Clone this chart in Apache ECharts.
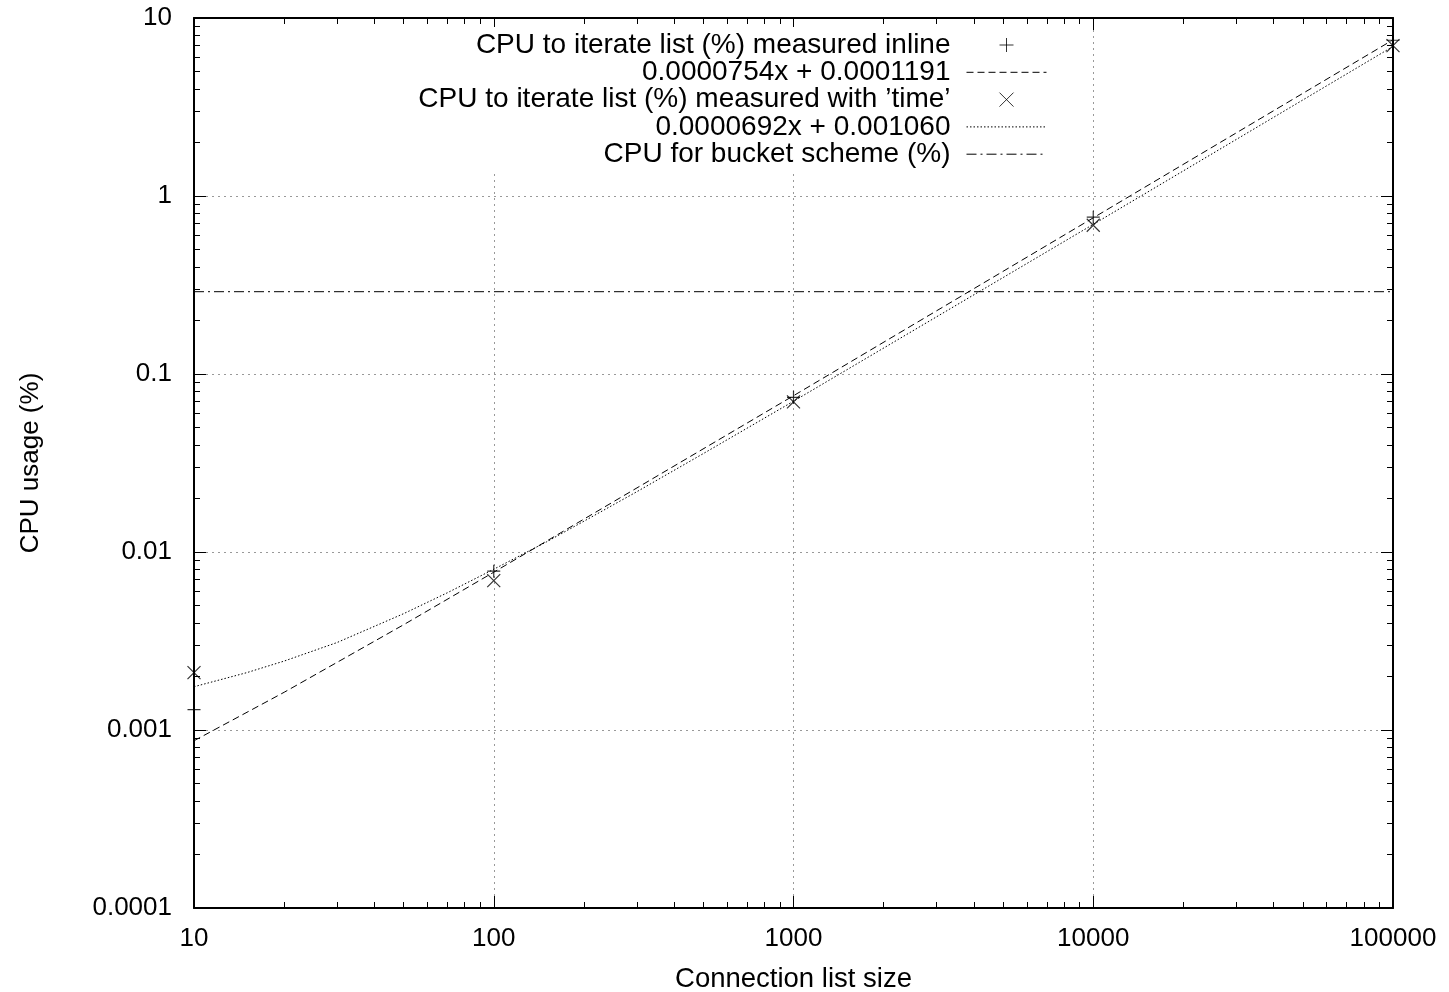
<!DOCTYPE html>
<html>
<head>
<meta charset="utf-8">
<script src="https://cdn.jsdelivr.net/npm/echarts@6/dist/echarts.min.js"></script>
<style>
  html, body { margin: 0; padding: 0; background: #fff; }
  #main { width: 1449px; height: 992px; }
</style>
</head>
<body>
<div id="main"></div>
<script>
// measured points
var xSizes = [10, 100, 1000, 10000, 100000];
var cpuInline = [0.0013, 0.0078, 0.074, 0.76, 7.5];
var cpuTime = [0.0021, 0.0069, 0.0697, 0.685, 7.0];

// fit curves
var fitInlineX = [10, 20, 50, 100, 1000, 10000, 100000];
var fitInlineY = [0.00087, 0.00163, 0.0039, 0.0077, 0.0755, 0.754, 7.54];
var fitTimeX = [10, 15, 20, 30, 50, 70, 100, 150, 200, 300, 500, 1000, 10000, 100000];
var fitTimeY = [0.00175, 0.0021, 0.00244, 0.0031, 0.0045, 0.0059, 0.0080, 0.0114, 0.0149, 0.0218, 0.0357, 0.0703, 0.693, 6.92];

// bucket scheme (flat)
var bucketX = [10, 100000];
var bucketY = [0.29, 0.29];

var names = [
  'CPU to iterate list (%) measured inline',
  '0.0000754x + 0.0001191',
  "CPU to iterate list (%) measured with \u2019time\u2019",
  '0.0000692x + 0.001060',
  'CPU for bucket scheme (%)'
];

// ticks
var xMajor = [10, 100, 1000, 10000, 100000];
var xTickLabels = ['10', '100', '1000', '10000', '100000'];
var yMajor = [0.0001, 0.001, 0.01, 0.1, 1, 10];
var yTickLabels = ['0.0001', '0.001', '0.01', '0.1', '1', '10'];

function minorsOf(major) {
  var out = [];
  for (var i = 0; i < major.length - 1; i++) {
    for (var k = 2; k <= 9; k++) out.push(+(major[i] * k).toPrecision(6));
  }
  return out;
}
var xMinor = minorsOf(xMajor);
var yMinor = minorsOf(yMajor);

function pairs(xs, ys) {
  return xs.map(function (x, i) { return [x, ys[i]]; });
}
function labelOf(ticks, labels) {
  return function (v) {
    for (var i = 0; i < ticks.length; i++) {
      if (Math.abs(Math.log10(ticks[i]) - Math.log10(v)) < 1e-6) return labels[i];
    }
    return '';
  };
}

var FONT = 'Liberation Sans';
var FS = 26;
var gridStyle = { color: '#999', width: 1, type: [2, 4] };

function xAx(pos, major, extra) {
  var a = {
    type: 'log', logBase: 10, min: 10, max: 100000, position: pos,
    axisLine: { show: major, onZero: false, lineStyle: { color: '#000', width: 2 } },
    axisTick: { show: true, inside: true, length: major ? 12 : 6,
      customValues: major ? xMajor : xMinor, lineStyle: { color: '#000', width: 1 } },
    axisLabel: { show: false },
    splitLine: { show: false },
    minorTick: { show: false }
  };
  return Object.assign(a, extra || {});
}
function yAx(pos, major, extra) {
  var a = {
    type: 'log', logBase: 10, min: 0.0001, max: 10, position: pos,
    axisLine: { show: major, onZero: false, lineStyle: { color: '#000', width: 2 } },
    axisTick: { show: true, inside: true, length: major ? 12 : 6,
      customValues: major ? yMajor : yMinor, lineStyle: { color: '#000', width: 1 } },
    axisLabel: { show: false },
    splitLine: { show: false },
    minorTick: { show: false }
  };
  return Object.assign(a, extra || {});
}

// line-only legend entries: hide the default dot
var noDot = { opacity: 0 };

var option = {
  animation: false,
  backgroundColor: '#fff',
  textStyle: { fontFamily: FONT },
  grid: { left: 194, right: 56, top: 18, bottom: 84, containLabel: false, outerBoundsMode: 'none' },
  legend: {
    orient: 'vertical',
    right: 396,
    top: 27,
    align: 'right',
    itemWidth: 80,
    itemHeight: 14,
    itemGap: -0.7,
    padding: [4, 6],
    backgroundColor: '#fff',
    selectedMode: false,
    itemStyle: { borderWidth: 1 },
    lineStyle: { width: 1 },
    textStyle: { fontFamily: FONT, fontSize: 28, color: '#000', lineHeight: 24, padding: [0, 11, 0, 0] },
    data: [
      { name: names[0] },
      { name: names[1], itemStyle: noDot },
      { name: names[2] },
      { name: names[3], itemStyle: noDot },
      { name: names[4], itemStyle: noDot }
    ]
  },
  xAxis: [
    xAx('bottom', true, {
      name: 'Connection list size', nameLocation: 'middle', nameGap: 57,
      nameTextStyle: { fontFamily: FONT, fontSize: 27.5, color: '#000' },
      axisLabel: { show: true, margin: 18, fontFamily: FONT, fontSize: FS, color: '#000',
        customValues: xMajor, formatter: labelOf(xMajor, xTickLabels) },
      splitLine: { show: true, lineStyle: gridStyle }
    }),
    xAx('bottom', false),
    xAx('top', true),
    xAx('top', false)
  ],
  yAxis: [
    yAx('left', true, {
      name: 'CPU usage (%)', nameLocation: 'middle', nameGap: 150,
      nameTextStyle: { fontFamily: FONT, fontSize: FS, color: '#000' },
      axisLabel: { show: true, margin: 22, fontFamily: FONT, fontSize: FS, color: '#000',
        customValues: yMajor, formatter: labelOf(yMajor, yTickLabels) },
      splitLine: { show: true, lineStyle: gridStyle }
    }),
    yAx('left', false),
    yAx('right', true),
    yAx('right', false)
  ],
  series: [
    {
      name: names[0], type: 'scatter', xAxisIndex: 0, yAxisIndex: 0,
      data: pairs(xSizes, cpuInline),
      symbol: 'path://M0,6L12,6M6,0L6,12', symbolSize: 13,
      itemStyle: { color: 'rgba(0,0,0,0)', borderColor: '#000', borderWidth: 1.2 },
      z: 5
    },
    {
      name: names[1], type: 'line', xAxisIndex: 0, yAxisIndex: 0,
      data: pairs(fitInlineX, fitInlineY),
      symbol: 'none', showSymbol: false,
      lineStyle: { color: '#000', width: 1, type: [7, 4] },
      itemStyle: { color: '#000' }
    },
    {
      name: names[2], type: 'scatter', xAxisIndex: 0, yAxisIndex: 0,
      data: pairs(xSizes, cpuTime),
      symbol: 'path://M0,0L12,12M12,0L0,12', symbolSize: 13,
      itemStyle: { color: 'rgba(0,0,0,0)', borderColor: '#000', borderWidth: 1.2 },
      z: 5
    },
    {
      name: names[3], type: 'line', xAxisIndex: 0, yAxisIndex: 0,
      data: pairs(fitTimeX, fitTimeY),
      symbol: 'none', showSymbol: false, smooth: false,
      lineStyle: { color: '#000', width: 1, type: [1.5, 2] },
      itemStyle: { color: '#000' }
    },
    {
      name: names[4], type: 'line', xAxisIndex: 0, yAxisIndex: 0,
      data: pairs(bucketX, bucketY),
      symbol: 'none', showSymbol: false,
      lineStyle: { color: '#000', width: 1, type: [10, 4, 2, 4] },
      itemStyle: { color: '#000' }
    }
  ]
};

var chart = echarts.init(document.getElementById('main'));
chart.setOption(option);
</script>
</body>
</html>
